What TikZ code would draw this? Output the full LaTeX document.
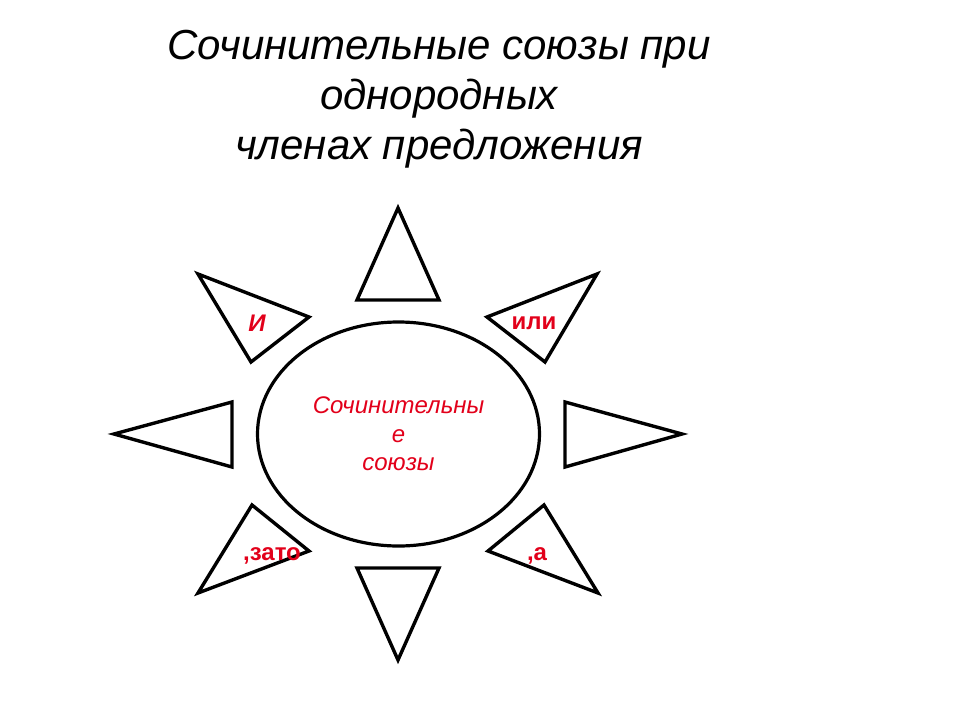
\documentclass[tikz,border=0pt]{standalone}
\usepackage{fontspec}
\setmainfont{Liberation Sans}
\usetikzlibrary{shapes.geometric}
\definecolor{labelred}{RGB}{226,0,26}

\begin{document}
\begin{tikzpicture}[x=1pt,y=-1pt,line join=miter,
  ray/.style={draw=black,line width=3.4pt},
  conj/.style={text=labelred,font=\fontsize{24}{28}\selectfont\bfseries}]
\useasboundingbox (0,0) rectangle (960,720);

% Заголовок
\node[align=center,font=\fontsize{42}{50}\selectfont\itshape] (title) at (439,99)
  {Сочинительные союзы при\\однородных\\членах предложения};

% Круг в центре
\node[ellipse,draw=black,line width=3.2pt,minimum width=282pt,minimum height=224pt,
  inner sep=0pt,align=center,text=labelred,font=\fontsize{24}{28.5}\selectfont\itshape]
  (core) at (398.5,434) {Сочинительны\\е\\союзы};

% Лучи
\draw[ray] (398,208) -- (439,300) -- (357,300) -- cycle;
\draw[ray] (398,660) -- (439,568) -- (357,568) -- cycle;
\draw[ray] (114,434) -- (232,402) -- (232,467) -- cycle;
\draw[ray] (682,434) -- (565,402) -- (565,467) -- cycle;
\draw[ray] (198,274) -- (309,317) -- (251,362) -- cycle;
\draw[ray] (597,274) -- (487,317) -- (545,362) -- cycle;
\draw[ray] (252,505) -- (309,551) -- (198,593) -- cycle;
\draw[ray] (544,505) -- (488,551) -- (598,593) -- cycle;

% Союзы
\node[conj,font=\fontsize{24}{28}\selectfont\bfseries\itshape] (i) at (257,323) {И};
\node[conj] (ili) at (534,323) {или};
\node[conj] (zato) at (272,556) {,зато};
\node[conj] (a) at (537,556) {,а};

\end{tikzpicture}
\end{document}
